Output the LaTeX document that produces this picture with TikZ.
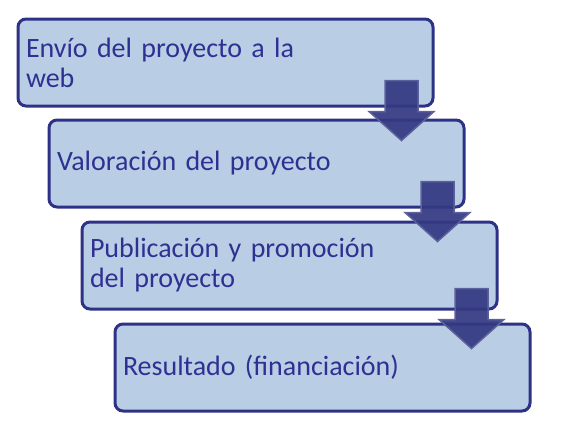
\documentclass[tikz,border=0pt]{standalone}
\usepackage{fontspec}
\setmainfont{Carlito}[WordSpace=0.8]
\usepackage{xcolor}
\definecolor{boxfill}{RGB}{185,205,229}
\definecolor{boxline}{RGB}{46,50,135}
\definecolor{boxtext}{RGB}{46,49,146}
\definecolor{arrowblue}{RGB}{52,57,130}
\usepackage{tikz}
\usetikzlibrary{calc, positioning}

\begin{document}
\begin{tikzpicture}[x=1pt, y=1pt,
  stepbox/.style={rectangle, rounded corners=8pt, draw=boxline, line width=3pt,
                  fill=boxfill, text=boxtext, anchor=north west,
                  text width=399pt, inner xsep=8pt, minimum height=87pt,
                  align=left, font=\fontsize{28}{30}\selectfont},
  downarr/.pic={
    \draw[fill=arrowblue, fill opacity=0.93, draw=arrowblue!80!white, line width=1.5pt, line join=miter]
      (-16.5,0) -- (16.5,0) -- (16.5,-31) -- (32.5,-31) -- (0,-60)
      -- (-32.5,-31) -- (-16.5,-31) -- cycle;
  }
]
\useasboundingbox (0,0) rectangle (562,-431);

% Boxes
\node[stepbox] (envio) at (16.5,-17.5) {Envío del proyecto a la\\web};
\node[stepbox] (valoracion) at (47.5,-118.5) {Valoración del proyecto};
\node[stepbox] (publicacion) at (80.5,-220.5) {Publicación y promoción\\del proyecto};
\node[stepbox] (resultado) at (113.5,-322.5) {Resultado (financiación)};

% Arrows
\pic at ($(envio.south east)+(-33,27)$) {downarr};
\pic at ($(valoracion.south east)+(-28,27)$) {downarr};
\pic at ($(publicacion.south east)+(-27,22)$) {downarr};
\end{tikzpicture}
\end{document}
